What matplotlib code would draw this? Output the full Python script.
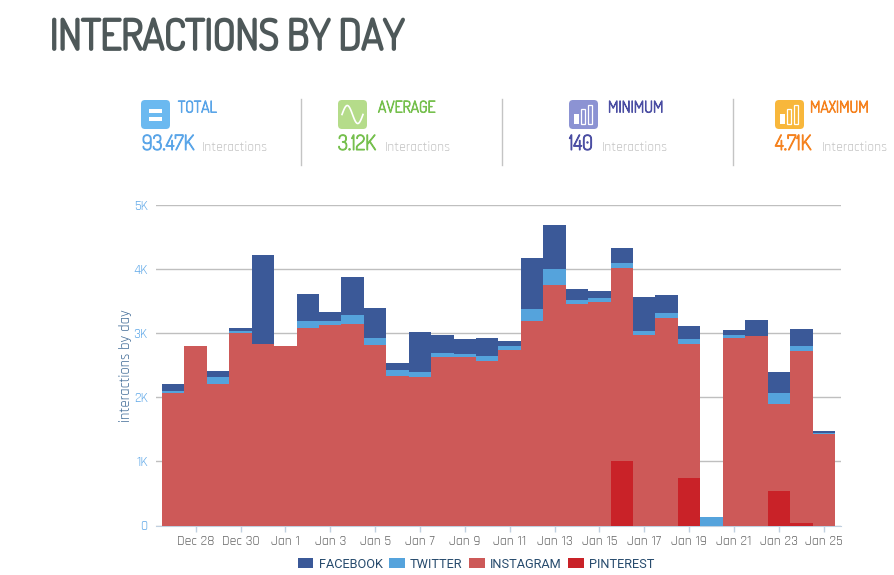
# -*- coding: utf-8 -*-
"""Interactions by day: stacked daily bars with a KPI strip on top."""
import numpy as np
import matplotlib
matplotlib.use("Agg")
import matplotlib.pyplot as plt
import matplotlib.patheffects as pe
from matplotlib.patches import FancyBboxPatch, Rectangle

W, H = 895, 575

DAYS = ["Dec 27", "Dec 28", "Dec 29", "Dec 30", "Dec 31", "Jan 1", "Jan 2", "Jan 3", "Jan 4", "Jan 5",
        "Jan 6", "Jan 7", "Jan 8", "Jan 9", "Jan 10", "Jan 11", "Jan 12", "Jan 13", "Jan 14", "Jan 15",
        "Jan 16", "Jan 17", "Jan 18", "Jan 19", "Jan 20", "Jan 21", "Jan 22", "Jan 23", "Jan 24", "Jan 25"]
PINTEREST = [0, 0, 0, 0, 0, 0, 0, 0, 0, 0, 0, 0, 0, 0, 0, 0, 0, 0, 0, 0,
             1000, 0, 0, 740, 0, 0, 0, 540, 40, 0]
INSTAGRAM = [2060, 2800, 2210, 3000, 2830, 2800, 3080, 3130, 3140, 2820,
             2330, 2310, 2630, 2630, 2560, 2740, 3190, 3750, 3460, 3490,
             3020, 2970, 3240, 2090, 0, 2920, 2960, 1360, 2680, 1430]
TWITTER = [40, 0, 100, 30, 0, 0, 110, 60, 140, 100,
           90, 80, 60, 40, 80, 60, 190, 250, 60, 60,
           70, 60, 70, 80, 140, 50, 0, 170, 80, 10]
FACEBOOK = [110, 0, 100, 50, 1390, 0, 420, 140, 600, 470,
            110, 630, 280, 240, 280, 80, 790, 690, 170, 110,
            240, 530, 280, 200, 0, 80, 240, 320, 260, 30]
YTICKS = [0, 1000, 2000, 3000, 4000, 5000]
YLABELS = ["0", "1K", "2K", "3K", "4K", "5K"]

KPI_NAMES = ["TOTAL", "AVERAGE", "MINIMUM", "MAXIMUM"]
KPI_VALUES = ["93.47K", "3.12K", "140", "4.71K"]

C_FB, C_TW, C_IG, C_PI = "#3b5998", "#55a3dc", "#cd5958", "#c92228"
DISPLAY = ["Dosis", "Roboto"]
BODY = ["Rajdhani", "Roboto"]

plt.rcParams["font.family"] = BODY


def heavy(width, color):
    # Dosis only loads in its light weight here, so thicken it with a stroke
    return [pe.withStroke(linewidth=width, foreground=color)]


fig = plt.figure(figsize=(W / 100, H / 100), dpi=100, facecolor="white")

# main chart, position worked out from the pixel rect of the plot
L, R, T, B = 156, 841, 205, 525.5
ax = fig.add_axes([L / W, 1 - B / H, (R - L) / W, (B - T) / H])
x = np.arange(len(DAYS))
pi = np.array(PINTEREST)
ig = np.array(INSTAGRAM)
tw = np.array(TWITTER)
fb = np.array(FACEBOOK)
ax.bar(x, pi, width=1, color=C_PI, label="PINTEREST", zorder=3)
ax.bar(x, ig, width=1, bottom=pi, color=C_IG, label="INSTAGRAM", zorder=3)
ax.bar(x, tw, width=1, bottom=pi + ig, color=C_TW, label="TWITTER", zorder=3)
ax.bar(x, fb, width=1, bottom=pi + ig + tw, color=C_FB, label="FACEBOOK", zorder=3)

ax.set_xlim(-0.767, 29.77)
ax.set_ylim(0, 5000)
ax.set_yticks(YTICKS, YLABELS)
ax.set_xticks(x[1::2], [DAYS[i] for i in x[1::2]])
ax.grid(axis="y", color="#bfbfbf", linewidth=1, zorder=1)
ax.set_axisbelow(True)
for s in ["top", "right", "left"]:
    ax.spines[s].set_visible(False)
ax.spines["bottom"].set_color("#c0d0e0")
ax.tick_params(axis="y", length=0, pad=6, labelsize=10, labelcolor="#5fa8e8")
ax.tick_params(axis="x", length=4, width=1, color="#c0d0e0", pad=3, labelsize=10, labelcolor="#666666")
ax.set_ylabel("interactions by day", fontsize=10.5, color="#3f6a96", labelpad=1)

handles, labels = ax.get_legend_handles_labels()
fig.legend(handles[::-1], labels[::-1], loc="center", bbox_to_anchor=(476 / W, 1 - 564 / H), ncol=4,
           frameon=False, labelcolor="#274b6d", handlelength=1.25, handleheight=0.9,
           handletextpad=0.4, columnspacing=0.5, borderpad=0, prop={"family": "Roboto", "size": 9.2})

# overlay in pixel coordinates for the header
ov = fig.add_axes([0, 0, 1, 1], zorder=5)
ov.set_xlim(0, W)
ov.set_ylim(H, 0)
ov.axis("off")

ov.text(50, 38.5, "INTERACTIONS BY DAY", fontsize=30, family=DISPLAY, color="#4e5859", va="center", ha="left",
        path_effects=heavy(2.0, "#4e5859"))

ICON_X = [141, 338, 569, 775]
ICON_COLORS = ["#6bb9f0", "#b5dc8a", "#8c93d3", "#f8b73b"]
NAME_X = [178, 378, 608, 810]
NAME_COLORS = ["#5aa5e8", "#76c04e", "#4b4ea3", "#f5821f"]
VALUE_X = [142, 338, 569, 775]
UNIT_X = [202, 385, 602, 822]
SEP_X = [301.5, 502.5, 733]

for ix, ic, nx, nc, vx, ux, name, val in zip(ICON_X, ICON_COLORS, NAME_X, NAME_COLORS, VALUE_X, UNIT_X,
                                             KPI_NAMES, KPI_VALUES):
    ov.add_patch(FancyBboxPatch((ix + 3, 103), 23, 23, boxstyle="round,pad=3,rounding_size=4",
                                facecolor=ic, edgecolor="none"))
    ov.text(nx, 108, name, fontsize=11.5, family=DISPLAY, color=nc, va="center", ha="left",
            path_effects=heavy(0.7, nc))
    ov.text(vx, 144.5, val, fontsize=15, family=DISPLAY, color=nc, va="center", ha="left",
            path_effects=heavy(0.8, nc))
    ov.text(ux, 147, "Interactions", fontsize=10, color="#c4c4c4", va="center", ha="left")

# icon glyphs
ov.add_patch(Rectangle((149, 109), 13, 3.5, facecolor="white", edgecolor="none"))
ov.add_patch(Rectangle((149, 117), 13, 3.5, facecolor="white", edgecolor="none"))
sx = np.linspace(342, 363, 60)
ov.plot(sx, 114.5 - 9 * np.sin((sx - 342) / 21 * 2 * np.pi), color="white", lw=1.2)
for ix in ICON_X[2:]:
    ov.add_patch(Rectangle((ix + 5, 114), 5, 10, facecolor="white", edgecolor="none"))
    ov.add_patch(Rectangle((ix + 12, 109), 4, 15, facecolor="none", edgecolor="white", lw=0.9))
    ov.add_patch(Rectangle((ix + 19, 105), 4, 19, facecolor="none", edgecolor="white", lw=0.9))
for sp in SEP_X:
    ov.plot([sp, sp], [99, 165], color="#c4c4c4", lw=1)

fig.savefig("out.png", dpi=100)
